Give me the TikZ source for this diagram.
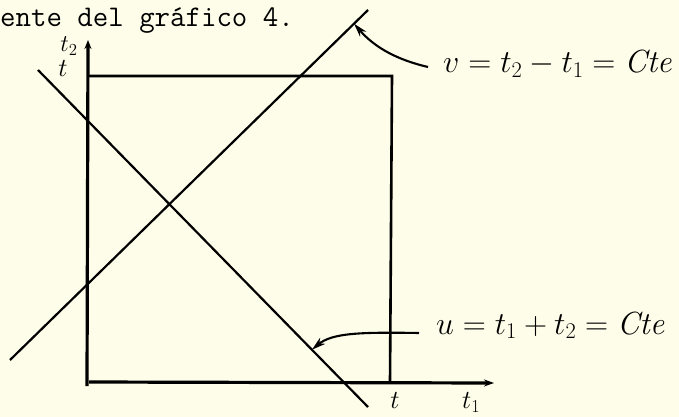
\RequirePackage{fix-cm}
\documentclass[tikz,border=0pt]{standalone}
\usepackage{fontspec}
\usetikzlibrary{arrows.meta,calc}
\definecolor{paper}{RGB}{254,253,233}
\begin{document}
\begin{tikzpicture}[x=1pt,y=-1pt,
  axis/.style={line width=3.2pt},
  edge/.style={line width=2.6pt},
  diag/.style={line width=2.2pt},
  callout/.style={line width=2.1pt,-{Stealth[length=14pt,width=8pt]}},
  hand/.style={inner sep=0pt,font=\fontsize{32}{37}\selectfont},
  small/.style={inner sep=0pt,font=\fontsize{24}{28}\selectfont},
  title/.style={inner sep=0pt,font=\fontsize{30}{32}\selectfont\ttfamily}]
\fill[paper] (0,0) rectangle (679,417);
\useasboundingbox (0,0) rectangle (679,417);
% title
\node[title,anchor=base west] (ttl) at (0,27) {ente del gráfico 4.};
% axes and square
\coordinate (Obot) at (87,386);
\coordinate (Ytip) at (88,40);
\coordinate (TL) at (88,76);
\coordinate (TR) at (392,76);
\coordinate (BR) at (390,382);
\coordinate (Xs) at (89,382);
\coordinate (Xtip) at (494,383);
\draw[axis,-{Stealth[length=9pt,width=7pt]}] (Obot) -- (Ytip);
\draw[axis,-{Stealth[length=10pt,width=7pt]}] (Xs) -- (Xtip);
\draw[edge] (TL) -- (TR) -- (BR);
% diagonals
\coordinate (r1) at (10,360);
\coordinate (r2) at (368,10);
\coordinate (f1) at (38,70);
\coordinate (f2) at (368,407);
\draw[diag] (r1) -- (r2);
\draw[diag] (f1) -- (f2);
% labels on axes
\node[small] (lt2) at (69,46) {$t_2$};
\node[inner sep=0pt,font=\fontsize{26}{28}\selectfont] (lt) at (63,69) {$t$};
\node[inner sep=0pt,font=\fontsize{26}{30}\selectfont,anchor=north] (bt) at (395,392) {$t$};
\node[inner sep=0pt,font=\fontsize{26}{30}\selectfont,anchor=north west] (bt1) at (462,392) {$t_1$};
% callout labels
\node[hand,anchor=base west] (vlab) at (443,73) {$v = t_2 - t_1 = \mathit{Cte}$};
\node[hand,anchor=base west] (ulab) at (436,334) {$u = t_1 + t_2 = \mathit{Cte}$};
% callouts
\coordinate (vstart) at (428,67);
\coordinate (vend) at ($(r1)!0.961!(r2)$);
\coordinate (ustart) at (419,333);
\coordinate (uend) at ($(f1)!0.83!(f2)$);
\draw[callout] (vstart) .. controls (398,60) and (375,48) .. (vend);
\draw[callout] (ustart) .. controls (360,332) and (332,333) .. (uend);
\end{tikzpicture}
\end{document}
